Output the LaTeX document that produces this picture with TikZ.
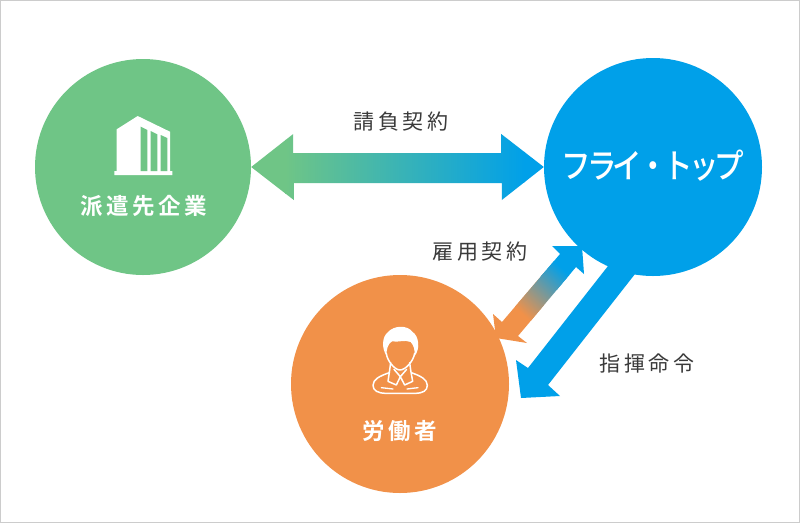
\documentclass[tikz,border=0pt]{standalone}
\usepackage{fontspec}
\newfontfamily\jpb{Noto Sans CJK JP Bold}[LetterSpace=16]
\newfontfamily\jpl{Noto Sans CJK JP}[LetterSpace=17]
\newfontfamily\jplogo{Noto Sans CJK JP Medium}[LetterSpace=-14]
\definecolor{cgreen}{HTML}{6FC586}
\definecolor{cblue}{HTML}{00A0E9}
\definecolor{corange}{HTML}{F19149}
\definecolor{ctext}{HTML}{3A3A3A}
\definecolor{cframe}{HTML}{CCCCCC}
\pgfdeclarehorizontalshading{empgrad}{130bp}{color(0bp)=(corange); color(60bp)=(cblue)}
\tikzset{
  party/.style={circle,inner sep=0pt,minimum size=#1},
  partylabel/.style={text=white,font=\jpb\fontsize{22.5}{26}\selectfont,inner sep=0pt},
  armlabel/.style={text=ctext,font=\jpl\fontsize{21}{25}\selectfont,inner sep=0pt},
  iconline/.style={draw=white,line width=1.5pt,line join=round,line cap=round},
}
\begin{document}
\begin{tikzpicture}[x=1pt,y=-1pt]
\useasboundingbox (0,0) rectangle (800,523);
\fill[white] (0,0) rectangle (800,523);
\draw[cframe,line width=1pt] (0.5,0.5) rectangle (799.5,522.5);

% parties
\node[party=216pt,fill=cgreen] (client) at (143,167) {};
\node[party=218pt,fill=cblue] (fly) at (653,167) {};
\node[party=218pt,fill=corange] (worker) at (400,384) {};

% contract arrow (client <-> fly)
\begin{scope}
\clip (client.east) -- ++(42,-33) -- ++(0,19) -- ++(208,0) -- ++(0,-19) -- (fly.west)
      -- ++(-42,33) -- ++(0,-17) -- ++(-208,0) -- ++(0,17) -- cycle;
\fill[cgreen] (240,120) rectangle (286,215);
\fill[cblue] (524,120) rectangle (560,215);
\shade[left color=cgreen,right color=cblue] (285,120) rectangle (525,215);
\end{scope}

% employment arrow (worker <-> fly)
\coordinate (empW) at (496,338);
\coordinate (empF) at (582,246);
\begin{scope}
\clip (empF) -- (584,274) -- (576,267) -- (518,336) -- (527,343) -- (empW)
      -- (493,314) -- (502,322) -- (560,254) -- (552,246) -- cycle;
\fill[corange] (480,230) rectangle (545,350);
\fill[cblue] (540,230) rectangle (600,290);
\node[inner sep=0pt,outer sep=0pt,rotate=47] (empshade) at (541,290) {\pgfuseshading{empgrad}};
\end{scope}

% command arrow (fly -> worker)
\coordinate (cmdW) at (521,398);
\fill[cblue] (608,266) -- (635,274) -- (548,385) -- (560,396) -- (cmdW)
      -- (516,360) -- (528,368) -- cycle;

% building icon
\fill[white] (116.7,129.3) -- (137.7,116) -- (170,131.7) -- (170,171) -- (172.3,171)
      -- (172.3,175) -- (114.3,175) -- (114.3,171) -- (116.7,171) -- cycle;
\fill[cgreen] (140.7,126.7) -- (147.3,130) -- (147.3,171) -- (140.7,171) -- cycle;
\fill[cgreen] (150.7,131) -- (157.3,134.3) -- (157.3,171) -- (150.7,171) -- cycle;
\fill[cgreen] (160.7,135) -- (167.3,138) -- (167.3,171) -- (160.7,171) -- cycle;

% person icon
\begin{scope}[shift={(368,320)},x=0.3333pt,y=-0.3333pt]
\fill[white] (56,108) .. controls (40,85) and (42,50) .. (60,36)
   .. controls (78,16) and (118,14) .. (134,36)
   .. controls (152,48) and (158,85) .. (140,108)
   .. controls (141,92) and (138,76) .. (128,66)
   .. controls (110,58) and (90,68) .. (72,64)
   .. controls (60,70) and (54,90) .. (56,108) -- cycle;
\draw[iconline] (55,100) .. controls (57,122) and (80,150) .. (96,150)
   .. controls (113,150) and (137,122) .. (140,100);
\draw[iconline] (68,128) -- (65,150) -- (60,184) -- (85,195) -- (97,170) -- (110,195) -- (134,184) -- (128,150) -- (125,128);
\draw[iconline] (78,148) -- (97,170) -- (116,148);
\draw[iconline] (64,158) .. controls (35,168) and (15,178) .. (15,196)
   .. controls (15,212) and (30,220) .. (55,220) -- (140,220)
   .. controls (165,220) and (178,212) .. (178,196)
   .. controls (178,178) and (158,168) .. (130,158);
\draw[iconline,line width=1.3pt] (40,203) -- (75,207);
\draw[iconline,line width=1.3pt] (117,207) -- (150,203);
\end{scope}

% labels
\node[partylabel] (clientlabel) at (143.5,206) {派遣先企業};
\node[partylabel] (workerlabel) at (400,431) {労働者};
\node[text=white,font=\jplogo\fontsize{34}{38}\selectfont,inner sep=0pt,xscale=.87,transform shape] (flylabel) at (653,166) {フライ・トップ};
\node[armlabel] (l1) at (401,122) {請負契約};
\node[armlabel] (l2) at (480,252) {雇用契約};
\node[armlabel] (l3) at (647,364) {指揮命令};
\end{tikzpicture}
\end{document}
